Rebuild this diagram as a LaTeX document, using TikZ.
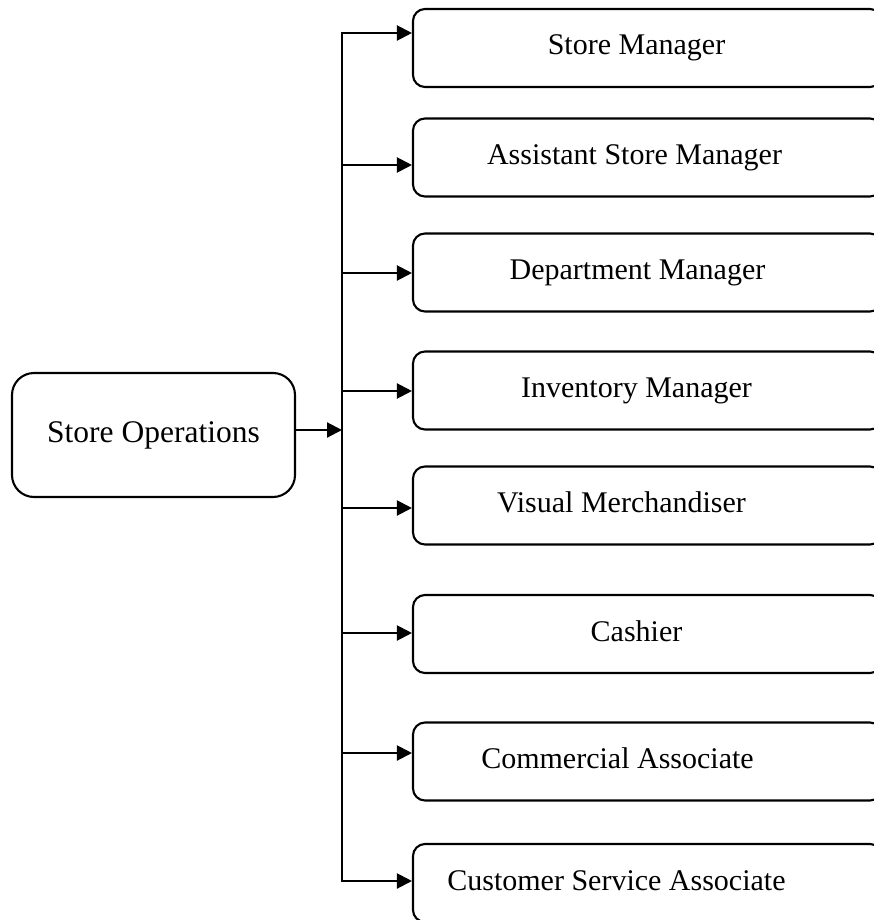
\documentclass[tikz,border=0pt]{standalone}
\usepackage{fontspec}
\setmainfont{Liberation Serif}
\usetikzlibrary{arrows.meta}
\tikzset{
  rolebox/.style={draw, line width=2.1pt, rounded corners=12pt,
    minimum width=469pt, minimum height=78pt, text height=21pt, text depth=7pt,
    font=\fontsize{30}{36}\selectfont},
  tl/.style={execute at begin node={\hspace*{-#1}}},
  feed/.style={line width=2.1pt, -{Triangle[length=15pt,width=15pt]}}
}
\begin{document}
\begin{tikzpicture}[x=1pt,y=-1pt]
    \useasboundingbox (0,0) rectangle (874,920);

    \node[draw, line width=2.1pt, rounded corners=22pt, minimum width=283pt, minimum height=124pt,
      font=\fontsize{31.5}{36}\selectfont] (ops) at (153.5,435) {Store Operations};

    \node[rolebox, tl=22pt] (sm) at (647.5,48) {Store Manager};
    \node[rolebox, tl=26pt] (asm) at (647.5,157.5) {Assistant Store Manager};
    \node[rolebox, tl=20pt] (dm) at (647.5,272.5) {Department Manager};
    \node[rolebox, tl=22pt] (im) at (647.5,390.5) {Inventory Manager};
    \node[rolebox, tl=52pt] (vm) at (647.5,505.5) {Visual Merchandiser};
    \node[rolebox, tl=22pt] (cash) at (647.5,634) {Cashier};
    \node[rolebox, tl=60pt] (ca) at (647.5,761.5) {Commercial Associate};
    \node[rolebox, tl=62pt] (csa) at (647.5,883) {Customer Service Associate};

    \coordinate (hub) at (342,430);
    \coordinate (t1) at (342,33);
    \coordinate (t2) at (342,165);
    \coordinate (t3) at (342,273);
    \coordinate (t4) at (342,391);
    \coordinate (t5) at (342,508);
    \coordinate (t6) at (342,633);
    \coordinate (t7) at (342,753);
    \coordinate (t8) at (342,881);

    \draw[line width=2.1pt, line cap=rect] (t1) -- (t8);
    \draw[feed] (ops.east |- hub) -- (hub);

    \draw[feed] (t1) -- (t1 -| sm.west);
    \draw[feed] (t2) -- (t2 -| asm.west);
    \draw[feed] (t3) -- (t3 -| dm.west);
    \draw[feed] (t4) -- (t4 -| im.west);
    \draw[feed] (t5) -- (t5 -| vm.west);
    \draw[feed] (t6) -- (t6 -| cash.west);
    \draw[feed] (t7) -- (t7 -| ca.west);
    \draw[feed] (t8) -- (t8 -| csa.west);
\end{tikzpicture}
\end{document}
